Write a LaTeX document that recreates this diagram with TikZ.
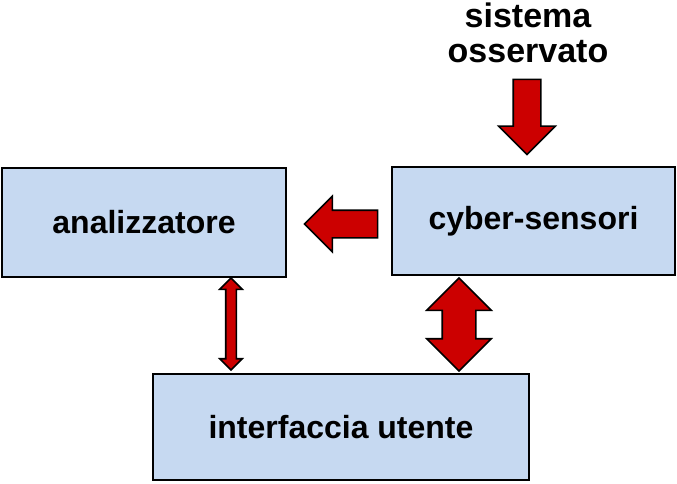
\documentclass[tikz,border=0pt]{standalone}
\usepackage{fontspec}
\setmainfont{Liberation Sans}
\usepackage{tikz}
\usetikzlibrary{shapes.arrows}

\definecolor{boxblue}{RGB}{198,217,241}
\definecolor{arrowred}{RGB}{204,0,0}

\begin{document}
\begin{tikzpicture}[x=1pt, y=-1pt,
    block/.style={draw=black, line width=2pt, fill=boxblue, inner sep=0pt,
        font=\fontsize{32}{38}\selectfont\bfseries},
    bigarrow/.style={single arrow, draw=black, line width=1.6pt, fill=arrowred,
        inner xsep=0pt, minimum width=0pt},
    twoarrow/.style={double arrow, draw=black, line width=1.6pt, fill=arrowred,
        inner xsep=0pt, minimum width=0pt}]
        \useasboundingbox (0,0) rectangle (677,483);

        % Boxes
        \node[block, minimum width=284pt, minimum height=109pt] (anal) at (144,222.5) {analizzatore};
        \node[block, minimum width=283pt, minimum height=108pt] (sensori) at (533.5,221) {cyber-sensori};
        \node[block, minimum width=376pt, minimum height=106pt] (utente) at (341,427) {interfaccia utente};

        % Label on top
        \node[align=center, inner sep=0pt, font=\fontsize{34}{35}\selectfont\bfseries] (osservato) at (528,33) {sistema\\osservato};

        % Arrows
        \node[bigarrow, rotate=-90, minimum height=75pt, inner ysep=13pt,
            single arrow head extend=14.5pt] (insensori) at (527,110) {};
        \node[bigarrow, rotate=180, minimum height=73pt, inner ysep=13pt,
            single arrow head extend=14pt] (inanal) at (348,224) {};
        \node[twoarrow, rotate=90, minimum height=93pt, inner ysep=16pt,
            double arrow head extend=15.5pt] (sensutente) at (459,324.5) {};
        \node[twoarrow, rotate=90, minimum height=92pt, inner ysep=4.5pt,
            double arrow head extend=6pt] (analutente) at (231,324) {};

\end{tikzpicture}
\end{document}
